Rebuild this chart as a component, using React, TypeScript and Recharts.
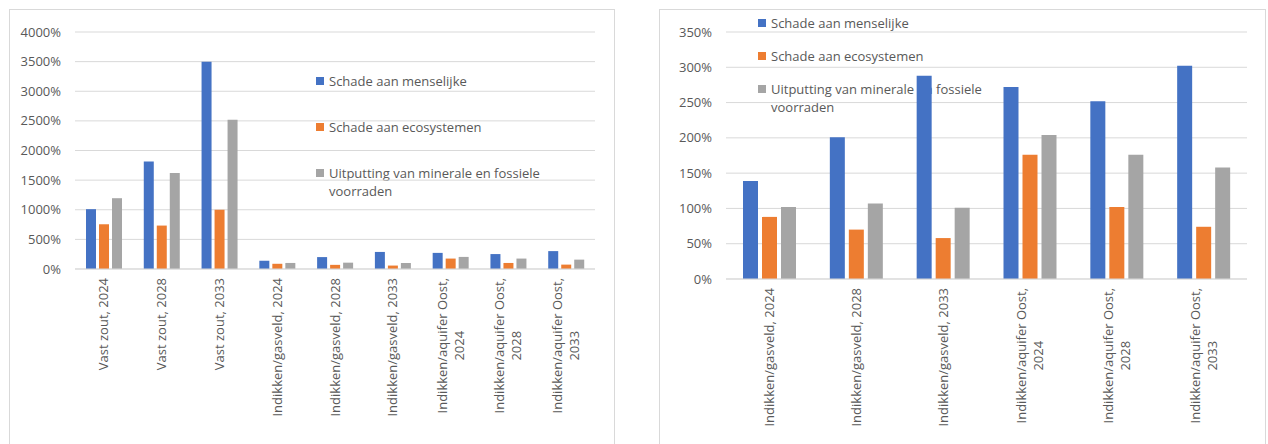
import React from "react";
import { BarChart, Bar, XAxis, YAxis, CartesianGrid, Legend } from "recharts";

const categories = [
  "Vast zout, 2024",
  "Vast zout, 2028",
  "Vast zout, 2033",
  "Indikken/gasveld, 2024",
  "Indikken/gasveld, 2028",
  "Indikken/gasveld, 2033",
  "Indikken/aquifer Oost, 2024",
  "Indikken/aquifer Oost, 2028",
  "Indikken/aquifer Oost, 2033",
];
const menselijke = [1010, 1815, 3500, 139, 201, 288, 272, 252, 302];
const ecosystemen = [755, 733, 1000, 88, 70, 58, 176, 102, 74];
const voorraden = [1195, 1620, 2520, 102, 107, 101, 204, 176, 158];
const leftTicks = [0, 500, 1000, 1500, 2000, 2500, 3000, 3500, 4000];
const rightTicks = [0, 50, 100, 150, 200, 250, 300, 350];
const seriesNames = [
  "Schade aan menselijke",
  "Schade aan ecosystemen",
  "Uitputting van minerale en fossiele voorraden",
];

const COLORS = ["#4472C4", "#ED7D31", "#A5A5A5"];
const FONT = '"Open Sans", sans-serif';
const TEXT = "#595959";
const GRID = "#D9D9D9";

const rows = categories.map((name, i) => ({
  name,
  a: menselijke[i],
  b: ecosystemen[i],
  c: voorraden[i],
}));
const rightRows = rows.slice(3);

let ctx: CanvasRenderingContext2D | null = null;
function textWidth(s: string) {
  if (!ctx) ctx = document.createElement("canvas").getContext("2d");
  ctx!.font = `13px ${FONT}`;
  return ctx!.measureText(s).width;
}

// long labels wrap before the year, like the original axis
function splitLabel(s: string) {
  if (s.length <= 24) return [s];
  const k = s.lastIndexOf(", ");
  return [s.slice(0, k + 1), s.slice(k + 2)];
}

const CategoryTick = ({ x, y, payload }: any) => {
  const lines = splitLabel(payload.value);
  const w = Math.max(...lines.map(textWidth));
  const step = 17;
  const first = -((lines.length - 1) * step) / 2;
  return (
    <g transform={`translate(${x},${y + 9}) rotate(-90)`}>
      {lines.map((l, i) => (
        <text
          key={i}
          x={-w / 2}
          y={first + i * step}
          dy="0.35em"
          textAnchor="middle"
          fill={TEXT}
          fontSize={13}
          fontFamily={FONT}
        >
          {l}
        </text>
      ))}
    </g>
  );
};

const legendContent = (gap: number) => ({ payload }: any) => {
  const items = [...(payload || [])].sort(
    (p, q) => seriesNames.indexOf(p.value) - seriesNames.indexOf(q.value)
  );
  return (
    <div style={{ fontFamily: FONT, fontSize: 13, color: TEXT, lineHeight: "18px", width: 250 }}>
      {items.map((p: any, i: number) => (
        <div key={i} style={{ display: "flex", alignItems: "flex-start", marginTop: i ? gap : 0 }}>
          <span style={{ width: 8, height: 8, background: p.color, marginTop: 5, flex: "none" }} />
          <span style={{ marginLeft: 5, width: 232 }}>{p.value}</span>
        </div>
      ))}
    </div>
  );
};

const pct = (v: number) => `${v}%`;

const frame: React.CSSProperties = {
  position: "absolute",
  top: 9,
  height: 435,
  boxSizing: "border-box",
  borderLeft: `1px solid ${GRID}`,
  borderTop: `1px solid ${GRID}`,
  borderRight: `1px solid ${GRID}`,
  zIndex: 0,
};

function ImpactChart({
  data,
  width,
  height,
  yWidth,
  xHeight,
  rightMargin,
  ticks,
  barSize,
  barGap,
  legendPos,
  legendGap,
}: any) {
  return (
    <BarChart
      width={width}
      height={height}
      data={data}
      margin={{ top: 22, right: rightMargin, bottom: 0, left: 0 }}
      barSize={barSize}
      barGap={barGap}
      style={{ fontFamily: FONT }}
    >
      <CartesianGrid vertical={false} stroke={GRID} />
      <XAxis
        dataKey="name"
        interval={0}
        height={xHeight}
        tickSize={0}
        tickMargin={0}
        tickLine={false}
        axisLine={{ stroke: GRID }}
        tick={<CategoryTick />}
      />
      <YAxis
        type="number"
        domain={[ticks[0], ticks[ticks.length - 1]]}
        ticks={ticks}
        interval={0}
        width={yWidth}
        tickSize={0}
        tickMargin={14}
        tickLine={false}
        axisLine={false}
        tickFormatter={pct}
        tick={{ fill: TEXT, fontSize: 13, fontFamily: FONT }}
      />
      <Legend
        layout="vertical"
        align="center"
        verticalAlign="middle"
        content={legendContent(legendGap)}
        wrapperStyle={{ position: "absolute", left: legendPos[0], top: legendPos[1], width: 250, zIndex: -1 }}
      />
      <Bar dataKey="a" name={seriesNames[0]} fill={COLORS[0]} isAnimationActive={false} />
      <Bar dataKey="b" name={seriesNames[1]} fill={COLORS[1]} isAnimationActive={false} />
      <Bar dataKey="c" name={seriesNames[2]} fill={COLORS[2]} isAnimationActive={false} />
    </BarChart>
  );
}

export default function App() {
  return (
    <div style={{ position: "absolute", left: 0, top: 0, width: 1268, height: 444, overflow: "hidden" }}>
      <div style={{ ...frame, left: 9, width: 606 }}>
        <ImpactChart
          data={rows}
          width={604}
          height={434}
          yWidth={65}
          xHeight={175}
          rightMargin={19}
          ticks={leftTicks}
          barSize={10}
          barGap={3}
          legendPos={[306, 62]}
          legendGap={28}
        />
      </div>
      <div style={{ ...frame, left: 659, width: 607 }}>
        <ImpactChart
          data={rightRows}
          width={605}
          height={434}
          yWidth={66}
          xHeight={165}
          rightMargin={18}
          ticks={rightTicks}
          barSize={15}
          barGap={4}
          legendPos={[98, 4]}
          legendGap={15}
        />
      </div>
    </div>
  );
}
